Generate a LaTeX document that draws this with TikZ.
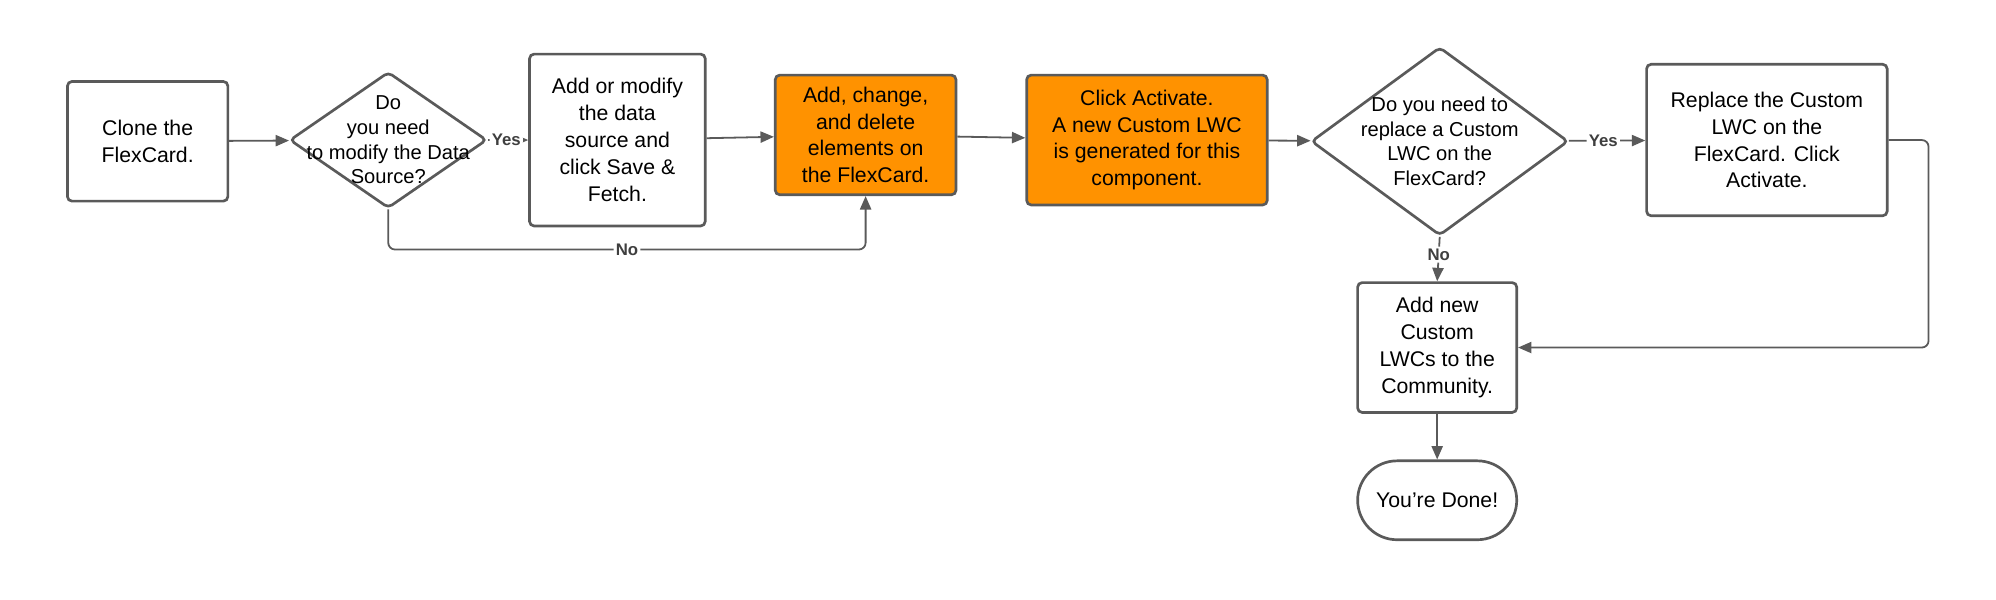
\documentclass[tikz,border=0pt]{standalone}
\usepackage{fontspec}
\setmainfont{Liberation Sans}
\usetikzlibrary{shapes.geometric,arrows.meta}
\definecolor{edge}{HTML}{5A5A5A}
\definecolor{fill1}{HTML}{FF9200}
\tikzset{
  task/.style={draw=edge, line width=1.2pt, rounded corners=2pt, align=center, font=\fontsize{9.5}{12}\selectfont},
  choice/.style={draw=edge, line width=1.2pt, diamond, rounded corners=2pt},
  flow/.style={draw=edge, line width=0.8pt, -{Triangle[length=6pt,width=5pt]}, rounded corners=3pt},
  tag/.style={fill=white, inner sep=1pt, font=\fontsize{7.5}{9}\selectfont\bfseries, text=edge!70!black}
}
\begin{document}
\begin{tikzpicture}[x=0.02cm,y=-0.02cm]
    \useasboundingbox (0,0) rectangle (1568,471);
    % Passi
    \node[task, minimum width=2.52cm, minimum height=1.88cm] (clone) at (116,111) {Clone the\\FlexCard.};
    \node[choice, minimum width=3.1cm, minimum height=2.14cm, label={[align=center, font=\fontsize{9}{11}\selectfont]center:Do\\you need\\to modify the Data\\Source?}] (ask_source) at (305,110) {};
    \node[task, minimum width=2.76cm, minimum height=2.7cm] (modify) at (485,110) {Add or modify\\the data\\source and\\click Save \&\\Fetch.};
    \node[task, fill=fill1, minimum width=2.84cm, minimum height=1.88cm] (elements) at (680,106) {Add, change,\\and delete\\elements on\\the FlexCard.};
    \node[task, fill=fill1, minimum width=3.78cm, minimum height=2.04cm] (activate) at (901,110) {Click Activate.\\A new Custom LWC\\is generated for this\\component.};
    \node[choice, minimum width=4.04cm, minimum height=2.96cm, label={[align=center, font=\fontsize{9}{11}\selectfont]center:Do you need to\\replace a Custom\\LWC on the\\FlexCard?}] (ask_lwc) at (1131,111) {};
    \node[task, minimum width=3.78cm, minimum height=2.38cm] (replace) at (1388,110) {Replace the Custom\\LWC on the\\FlexCard. Click\\Activate.};
    \node[task, minimum width=2.5cm, minimum height=2.04cm] (community) at (1129,273) {Add new\\Custom\\LWCs to the\\Community.};
    \node[task, rounded corners=0.62cm, minimum width=2.5cm, minimum height=1.24cm] (done) at (1129,393) {You're Done!};
    % Frecce
    \draw[flow] (clone) -- (ask_source);
    \draw[flow] (ask_source) -- node[tag, pos=0.45] {Yes} (modify);
    \draw[flow] (modify) -- (elements);
    \draw[flow] (elements) -- (activate);
    \draw[flow] (activate) -- (ask_lwc);
    \draw[flow] (ask_lwc) -- node[tag, pos=0.45] {Yes} (replace);
    \draw[flow] (ask_source.south) |- node[tag, pos=0.75] {No} (680,196) -- (elements.south);
    \draw[flow] (ask_lwc.south) -- node[tag, pos=0.4] {No} (community.north);
    \draw[flow] (replace.east) -| (1515,273) -- (community.east);
    \draw[flow] (community) -- (done);
\end{tikzpicture}
\end{document}
